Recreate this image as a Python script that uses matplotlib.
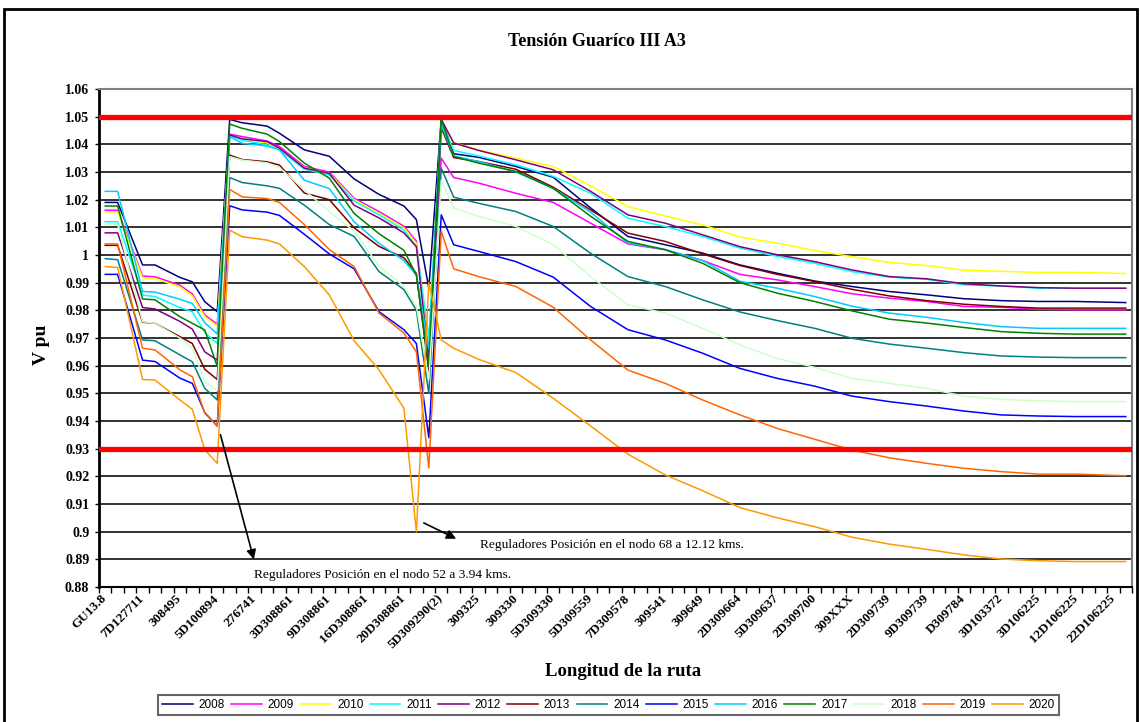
import numpy as np
import matplotlib
matplotlib.use("Agg")
import matplotlib.pyplot as plt
from matplotlib.patches import Rectangle

# etiquetas del eje x (una cada 3 nodos)
etiquetas = ["GU13.8", "7D127711", "308495", "5D100894", "276741", "3D308861",
             "9D308861", "16D308861", "20D308861", "5D309290(2)", "309325", "309330",
             "5D309330", "5D309559", "7D309578", "309541", "309649", "2D309664",
             "5D309637", "2D309700", "309XXX", "2D309739", "9D309739", "D309784",
             "3D103372", "3D106225", "12D106225", "22D106225"]
n_nodos = 83

# nodos donde se leyeron los valores
puntos = [0, 1, 3, 4, 6, 7, 8, 9,
          10, 11, 13, 14, 16, 18, 20, 22, 24, 25, 26,
          27, 28, 30, 33, 36, 39, 42, 45, 48, 51, 54, 57, 60, 63, 66, 69, 72, 75, 78, 82]

anios = ["2008", "2009", "2010", "2011", "2012", "2013", "2014",
         "2015", "2016", "2017", "2018", "2019", "2020"]
colores = ["#000080", "#FF00FF", "#FFFF00", "#00FFFF", "#800080", "#800000", "#008080",
           "#0000FF", "#00CCFF", "#008000", "#CCFFCC", "#FF6600", "#FF9900"]

v2008 = [1.019, 1.019, 0.9964, 0.9964, 0.9919, 0.9903, 0.9831, 0.9795,
         1.049, 1.0478, 1.0466, 1.044, 1.038, 1.0357, 1.0275, 1.0219, 1.0177, 1.0128, 0.988,
         1.0494, 1.0366, 1.0353, 1.032, 1.0281, 1.017, 1.0067, 1.0037, 1.0007, 0.9964,
         0.9934, 0.9906, 0.9886, 0.9868, 0.9856, 0.9842, 0.9835, 0.9832, 0.9832, 0.9828]
v2009 = [1.0162, 1.0162, 0.9924, 0.9921, 0.9891, 0.9859, 0.9783, 0.975,
         1.0437, 1.0428, 1.0412, 1.0392, 1.032, 1.030, 1.0205, 1.0157, 1.0104, 1.005, 0.965,
         1.035, 1.028, 1.026, 1.0223, 1.019, 1.0115, 1.004, 1.0019, 0.998, 0.993,
         0.991, 0.9886, 0.986, 0.9844, 0.9832, 0.9814, 0.9811, 0.9804, 0.9802, 0.9802]
v2010 = [1.0156, 1.0156, 0.9917, 0.9915, 0.9885, 0.9852, 0.9777, 0.9743,
         1.043, 1.042, 1.0405, 1.0385, 1.0315, 1.0295, 1.020, 1.015, 1.0098, 1.0042, 0.968,
         1.049, 1.0406, 1.038, 1.035, 1.032, 1.025, 1.0175, 1.0141, 1.0109, 1.0065,
         1.0043, 1.0016, 0.9994, 0.9973, 0.9962, 0.9945, 0.9941, 0.9937, 0.9937, 0.9933]
v2011 = [1.012, 1.012, 0.9855, 0.985, 0.981, 0.9795, 0.972, 0.968,
         1.0432, 1.0415, 1.0398, 1.038, 1.031, 1.029, 1.0195, 1.0145, 1.009, 1.003, 0.970,
         1.048, 1.0378, 1.0358, 1.0326, 1.0284, 1.0223, 1.0133, 1.0103, 1.0067, 1.0025,
         0.9995, 0.997, 0.994, 0.992, 0.9912, 0.9892, 0.9888, 0.988, 0.988, 0.988]
v2012 = [1.008, 1.008, 0.981, 0.9805, 0.976, 0.9732, 0.965, 0.962,
         1.0434, 1.042, 1.041, 1.0386, 1.0314, 1.0295, 1.018, 1.0134, 1.008, 1.003, 0.962,
         1.049, 1.0405, 1.0378, 1.0344, 1.0308, 1.023, 1.0145, 1.0115, 1.0073, 1.003,
         1.0001, 0.9976, 0.9946, 0.9922, 0.9914, 0.9896, 0.9888, 0.9882, 0.988, 0.988]
v2013 = [1.0035, 1.0035, 0.9757, 0.9753, 0.9705, 0.968, 0.9587, 0.955,
         1.0361, 1.0345, 1.0337, 1.0325, 1.0224, 1.020, 1.0098, 1.0031, 0.999, 0.9933, 0.958,
         1.046, 1.0352, 1.0338, 1.031, 1.0245, 1.0163, 1.0079, 1.0049, 1.0004, 0.9962,
         0.993, 0.9904, 0.9876, 0.9852, 0.9835, 0.9822, 0.9814, 0.9808, 0.9808, 0.9808]
v2014 = [0.9987, 0.9983, 0.9693, 0.969, 0.9639, 0.9614, 0.9518, 0.9476,
         1.028, 1.0262, 1.025, 1.0241, 1.018, 1.011, 1.0067, 0.994, 0.9875, 0.980, 0.950,
         1.0314, 1.0209, 1.0187, 1.0157, 1.0103, 1.0006, 0.9922, 0.9886, 0.9838, 0.9794,
         0.9763, 0.9735, 0.9699, 0.9678, 0.9663, 0.9647, 0.9635, 0.9631, 0.9629, 0.9629]
v2015 = [0.993, 0.993, 0.962, 0.9615, 0.9555, 0.9536, 0.943, 0.9382,
         1.0178, 1.0163, 1.0155, 1.0143, 1.0075, 1.0004, 0.995, 0.9795, 0.973, 0.968, 0.934,
         1.0145, 1.0037, 1.0013, 0.9976, 0.992, 0.9814, 0.973, 0.9693, 0.9645, 0.959,
         0.9554, 0.9526, 0.949, 0.947, 0.9454, 0.9436, 0.9422, 0.9418, 0.9416, 0.9416]
v2016 = [1.023, 1.023, 0.9868, 0.9866, 0.984, 0.9825, 0.9755, 0.9715,
         1.0428, 1.0404, 1.0394, 1.038, 1.027, 1.024, 1.012, 1.0042, 0.998, 0.9927, 0.966,
         1.047, 1.0358, 1.0338, 1.030, 1.0241, 1.0155, 1.0043, 1.002, 0.998, 0.9905,
         0.988, 0.985, 0.9815, 0.979, 0.9775, 0.9756, 0.9741, 0.9735, 0.9735, 0.9735]
v2017 = [1.0177, 1.0177, 0.9841, 0.9838, 0.9777, 0.9753, 0.9729, 0.9597,
         1.0473, 1.0458, 1.0437, 1.041, 1.0332, 1.0278, 1.015, 1.0077, 1.0017, 0.9927, 0.960,
         1.049, 1.0356, 1.0332, 1.0302, 1.0241, 1.014, 1.0049, 1.0019, 0.997, 0.990,
         0.9862, 0.9832, 0.9798, 0.9768, 0.9754, 0.9738, 0.9723, 0.9717, 0.9714, 0.9714]
v2018 = [1.011, 1.011, 0.9759, 0.9753, 0.970, 0.9663, 0.9542, 0.951,
         1.0355, 1.0343, 1.0333, 1.0316, 1.0235, 1.0157, 1.0086, 0.996, 0.9887, 0.9815, 0.955,
         1.027, 1.017, 1.014, 1.0103, 1.0037, 0.9922, 0.982, 0.979, 0.9735, 0.9675,
         0.9626, 0.9594, 0.9554, 0.9536, 0.9518, 0.949, 0.9478, 0.9473, 0.947, 0.947]
v2019 = [1.004, 1.004, 0.9663, 0.9657, 0.9585, 0.956, 0.9428, 0.9382,
         1.0237, 1.021, 1.0204, 1.019, 1.011, 1.002, 0.9958, 0.979, 0.9718, 0.965, 0.923,
         1.0085, 0.995, 0.9922, 0.9886, 0.9811, 0.9693, 0.9584, 0.9536, 0.9476, 0.9422,
         0.9373, 0.9334, 0.9295, 0.9267, 0.9247, 0.9229, 0.9217, 0.9208, 0.9208, 0.9202]
v2020 = [0.9958, 0.9955, 0.955, 0.9548, 0.9476, 0.9442, 0.9296, 0.9247,
         1.009, 1.0066, 1.0054, 1.004, 0.9958, 0.9856, 0.969, 0.9585, 0.9446, 0.900, 0.99,
         0.9693, 0.9663, 0.9623, 0.9575, 0.9482, 0.9382, 0.928, 0.9205, 0.9148, 0.9087,
         0.905, 0.9018, 0.898, 0.8955, 0.8936, 0.8916, 0.8901, 0.8895, 0.8892, 0.8892]

series = [v2008, v2009, v2010, v2011, v2012, v2013, v2014,
          v2015, v2016, v2017, v2018, v2019, v2020]

# limites de tension
lim_sup = 1.05
lim_inf = 0.93

serif = "Liberation Serif"
W, H = 1140, 722

fig = plt.figure(figsize=(W / 100, H / 100), dpi=100)
fig.patch.set_facecolor("white")
ax = fig.add_axes([99 / W, 1 - 587 / H, 1033 / W, 498 / H])

for vals, c, a in zip(series, colores, anios):
    ax.plot(puntos, vals, color=c, lw=1.1, label=a, zorder=2)

ax.axhline(lim_sup, color="#FF0000", lw=3.8, zorder=3)
ax.axhline(lim_inf, color="#FF0000", lw=3.8, zorder=3)

ax.set_xlim(-0.5, n_nodos - 0.5)
ax.set_ylim(0.88, 1.06)

# eje y
yt = np.round(np.arange(0.88, 1.0601, 0.01), 2)
ax.set_yticks(yt)
ax.set_yticklabels(["{:g}".format(v) for v in yt], fontsize=10, fontweight="bold",
                   family=serif)
ax.yaxis.grid(True, color="#333333", lw=1.4, zorder=1)
ax.tick_params(axis="y", length=3, width=1, pad=4)

# eje x: marcas entre categorias, etiquetas cada 3
ax.set_xticks(np.arange(-0.5, n_nodos, 1))
ax.set_xticklabels([])
ax.tick_params(axis="x", which="major", length=4, width=1, direction="out")
ax.set_xticks(np.arange(0, n_nodos, 3)[:len(etiquetas)], etiquetas, minor=True)
ax.tick_params(axis="x", which="minor", length=0, pad=7)
for lbl in ax.get_xticklabels(minor=True):
    lbl.set_rotation(45)
    lbl.set_ha("right")
    lbl.set_va("center")
    lbl.set_rotation_mode("anchor")
    lbl.set_fontsize(9.5)
    lbl.set_fontweight("bold")
    lbl.set_family(serif)

for s in ["left", "bottom"]:
    ax.spines[s].set_color("black")
ax.spines["left"].set_linewidth(2)
ax.spines["bottom"].set_linewidth(1.5)
for s in ["top", "right"]:
    ax.spines[s].set_color("#808080")
    ax.spines[s].set_linewidth(1.5)

# textos
fig.text(597 / W, 1 - 42 / H, "Tensión Guaríco III A3", ha="center", va="center",
         fontsize=13, fontweight="bold", family=serif)
fig.text(42 / W, 1 - 345 / H, "V pu", ha="center", va="center", rotation=90,
         fontsize=14, fontweight="bold", family=serif)
fig.text(623 / W, 1 - 672 / H, "Longitud de la ruta", ha="center", va="center",
         fontsize=13.5, fontweight="bold", family=serif)

# reguladores
flecha = dict(arrowstyle="-|>", color="black", lw=1.2, mutation_scale=14)
ax.annotate("", xy=(12.0, 0.889), xytext=(9.2, 0.936), arrowprops=flecha,
            annotation_clip=False)
ax.text(11.95, 0.8844, "Reguladores Posición en el nodo 52 a 3.94 kms.",
        fontsize=9.6, family=serif, va="center", ha="left", clip_on=False)
ax.annotate("", xy=(28.4, 0.897), xytext=(25.4, 0.9036), arrowprops=flecha,
            annotation_clip=False)
ax.text(30.1, 0.8952, "Reguladores Posición en el nodo 68 a 12.12 kms.",
        fontsize=9.6, family=serif, va="center", ha="left", clip_on=False)

# leyenda
leg = fig.legend(loc="lower left", bbox_to_anchor=(152 / W, 1 / H, (1065 - 152) / W, 26 / H),
                 mode="expand", ncol=13, handlelength=2.6,
                 handletextpad=0.5, borderpad=0.35, columnspacing=0.5,
                 fancybox=False, prop={"family": "Liberation Sans", "size": 8.5})
leg.get_frame().set_edgecolor("#404040")
leg.get_frame().set_linewidth(1.5)

# marco del grafico
fig.patches.append(Rectangle((4 / W, -0.05), (1137 - 4) / W, 1.05 - 9 / H,
                             transform=fig.transFigure, fill=False,
                             edgecolor="black", lw=2))

plt.savefig("out.png", dpi=100)
